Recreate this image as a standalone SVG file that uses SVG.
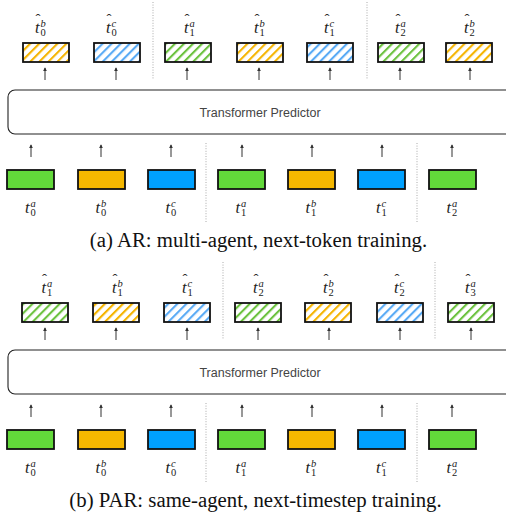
<svg xmlns="http://www.w3.org/2000/svg" width="506" height="519" viewBox="0 0 506 519">
  <style>
    .tok { stroke: #111; stroke-width: 1.8; }
    .g { fill: #62d93a; }
    .o { fill: #f6b800; }
    .b { fill: #00a1ff; }
    .hg { fill: url(#hatchG); }
    .ho { fill: url(#hatchO); }
    .hb { fill: url(#hatchB); }
    .arr { stroke: #333; stroke-width: 1; fill: none; marker-end: url(#head); }
    .sep { stroke: #aaa; stroke-width: 1; stroke-dasharray: 1 1.6; }
    .pred { fill: #fff; stroke: #222; stroke-width: 1.1; }
    .predtxt { font-family: "Liberation Sans", Arial, sans-serif; font-size: 12.5px; fill: #444; text-anchor: middle; }
    .lab { font-family: "Liberation Serif", "Times New Roman", serif; font-style: italic; font-size: 16.5px; fill: #222; }
    .hat { font-style: normal; font-size: 15px; }
    .sup { font-size: 10.5px; }
    .sub { font-style: normal; font-size: 10.5px; }
    .cap { font-family: "Liberation Serif", "Times New Roman", serif; font-size: 20.8px; fill: #111; text-anchor: middle; }
  </style>
  <defs>
    <marker id="head" markerUnits="userSpaceOnUse" markerWidth="4" markerHeight="4" refX="5" refY="3" orient="auto" viewBox="0 0 6 6">
      <path d="M0,0 L6,3 L0,6 z" fill="#333"/>
    </marker>
    <pattern id="hatchG" patternUnits="userSpaceOnUse" width="6.4" height="6.4" patternTransform="rotate(45)">
      <rect width="6.4" height="6.4" fill="#fff"/>
      <rect x="0" y="0" width="2.1" height="6.4" fill="#6cc23f"/>
    </pattern>
    <pattern id="hatchO" patternUnits="userSpaceOnUse" width="6.4" height="6.4" patternTransform="rotate(45)">
      <rect width="6.4" height="6.4" fill="#fff"/>
      <rect x="0" y="0" width="2.1" height="6.4" fill="#f5b400"/>
    </pattern>
    <pattern id="hatchB" patternUnits="userSpaceOnUse" width="6.4" height="6.4" patternTransform="rotate(45)">
      <rect width="6.4" height="6.4" fill="#fff"/>
      <rect x="0" y="0" width="2.1" height="6.4" fill="#58aaf5"/>
    </pattern>
  </defs>

  <!-- ===== Panel (a): AR ===== -->
  <g id="a-separators">
    <line class="sep" x1="153" y1="2" x2="153" y2="80"/>
    <line class="sep" x1="367" y1="2" x2="367" y2="80"/>
    <line class="sep" x1="206" y1="143" x2="206" y2="222"/>
    <line class="sep" x1="417" y1="143" x2="417" y2="222"/>
  </g>

  <!-- predicted tokens (a): each label is t, superscript, subscript, then the hat -->
  <g id="a-out-t0b"><rect class="tok ho" x="23" y="43" width="46" height="19"/>
    <text class="lab" x="35" y="33">t<tspan class="sup" x="40.5" dy="-6">b</tspan><tspan class="sub" x="40.5" dy="9">0</tspan><tspan class="hat" x="35.5" dy="-12">ˆ</tspan></text></g>
  <g id="a-out-t0c"><rect class="tok hb" x="94" y="43" width="46" height="19"/>
    <text class="lab" x="106" y="33">t<tspan class="sup" x="111.5" dy="-6">c</tspan><tspan class="sub" x="111.5" dy="9">0</tspan><tspan class="hat" x="106.5" dy="-12">ˆ</tspan></text></g>
  <g id="a-out-t1a"><rect class="tok hg" x="165" y="43" width="46" height="19"/>
    <text class="lab" x="184" y="33">t<tspan class="sup" x="189.5" dy="-6">a</tspan><tspan class="sub" x="189.5" dy="9">1</tspan><tspan class="hat" x="184.5" dy="-12">ˆ</tspan></text></g>
  <g id="a-out-t1b"><rect class="tok ho" x="237" y="43" width="46" height="19"/>
    <text class="lab" x="254" y="33">t<tspan class="sup" x="259.5" dy="-6">b</tspan><tspan class="sub" x="259.5" dy="9">1</tspan><tspan class="hat" x="254.5" dy="-12">ˆ</tspan></text></g>
  <g id="a-out-t1c"><rect class="tok hb" x="307" y="43" width="46" height="19"/>
    <text class="lab" x="324" y="33">t<tspan class="sup" x="329.5" dy="-6">c</tspan><tspan class="sub" x="329.5" dy="9">1</tspan><tspan class="hat" x="324.5" dy="-12">ˆ</tspan></text></g>
  <g id="a-out-t2a"><rect class="tok hg" x="378" y="43" width="46" height="19"/>
    <text class="lab" x="395" y="33">t<tspan class="sup" x="400.5" dy="-6">a</tspan><tspan class="sub" x="400.5" dy="9">2</tspan><tspan class="hat" x="395.5" dy="-12">ˆ</tspan></text></g>
  <g id="a-out-t2b"><rect class="tok ho" x="446" y="43" width="46" height="19"/>
    <text class="lab" x="464" y="33">t<tspan class="sup" x="469.5" dy="-6">b</tspan><tspan class="sub" x="469.5" dy="9">2</tspan><tspan class="hat" x="464.5" dy="-12">ˆ</tspan></text></g>

  <g id="a-predictor">
    <rect class="pred" x="8" y="90" width="506" height="44" rx="7"/>
    <text class="predtxt" x="260" y="117">Transformer Predictor</text>
  </g>

  <!-- input tokens (a) -->
  <g id="a-in-t0a"><rect class="tok g" x="7" y="170" width="47" height="19"/>
    <text class="lab" x="25" y="213">t<tspan class="sup" x="30.5" dy="-6">a</tspan><tspan class="sub" x="30.5" dy="9">0</tspan></text></g>
  <g id="a-in-t0b"><rect class="tok o" x="78" y="170" width="47" height="19"/>
    <text class="lab" x="95.5" y="213">t<tspan class="sup" x="101" dy="-6">b</tspan><tspan class="sub" x="101" dy="9">0</tspan></text></g>
  <g id="a-in-t0c"><rect class="tok b" x="148" y="170" width="47" height="19"/>
    <text class="lab" x="165.5" y="213">t<tspan class="sup" x="171" dy="-6">c</tspan><tspan class="sub" x="171" dy="9">0</tspan></text></g>
  <g id="a-in-t1a"><rect class="tok g" x="218" y="170" width="47" height="19"/>
    <text class="lab" x="235.5" y="213">t<tspan class="sup" x="241" dy="-6">a</tspan><tspan class="sub" x="241" dy="9">1</tspan></text></g>
  <g id="a-in-t1b"><rect class="tok o" x="288" y="170" width="47" height="19"/>
    <text class="lab" x="305.5" y="213">t<tspan class="sup" x="311" dy="-6">b</tspan><tspan class="sub" x="311" dy="9">1</tspan></text></g>
  <g id="a-in-t1c"><rect class="tok b" x="358" y="170" width="47" height="19"/>
    <text class="lab" x="376" y="213">t<tspan class="sup" x="381.5" dy="-6">c</tspan><tspan class="sub" x="381.5" dy="9">1</tspan></text></g>
  <g id="a-in-t2a"><rect class="tok g" x="429" y="170" width="47" height="19"/>
    <text class="lab" x="446.5" y="213">t<tspan class="sup" x="452" dy="-6">a</tspan><tspan class="sub" x="452" dy="9">2</tspan></text></g>

  <g id="a-connectors">
    <line class="arr" x1="45" y1="80" x2="45" y2="68"/>
    <line class="arr" x1="116" y1="80" x2="116" y2="68"/>
    <line class="arr" x1="187" y1="80" x2="187" y2="68"/>
    <line class="arr" x1="259" y1="80" x2="259" y2="68"/>
    <line class="arr" x1="330" y1="80" x2="330" y2="68"/>
    <line class="arr" x1="400" y1="80" x2="400" y2="68"/>
    <line class="arr" x1="470" y1="80" x2="470" y2="68"/>
    <line class="arr" x1="31" y1="157" x2="31" y2="145"/>
    <line class="arr" x1="101" y1="157" x2="101" y2="145"/>
    <line class="arr" x1="171" y1="157" x2="171" y2="145"/>
    <line class="arr" x1="242" y1="157" x2="242" y2="145"/>
    <line class="arr" x1="312" y1="157" x2="312" y2="145"/>
    <line class="arr" x1="382" y1="157" x2="382" y2="145"/>
    <line class="arr" x1="452" y1="157" x2="452" y2="145"/>
  </g>

  <text class="cap" x="258.5" y="247">(a) AR: multi-agent, next-token training.</text>

  <!-- ===== Panel (b): PAR ===== -->
  <g id="b-separators">
    <line class="sep" x1="223" y1="262" x2="223" y2="340"/>
    <line class="sep" x1="435" y1="262" x2="435" y2="340"/>
    <line class="sep" x1="206" y1="403" x2="206" y2="482"/>
    <line class="sep" x1="417" y1="403" x2="417" y2="482"/>
  </g>

  <!-- predicted tokens (b) -->
  <g id="b-out-t1a"><rect class="tok hg" x="22" y="303" width="46" height="19"/>
    <text class="lab" x="41.5" y="293">t<tspan class="sup" x="47" dy="-6">a</tspan><tspan class="sub" x="47" dy="9">1</tspan><tspan class="hat" x="42" dy="-12">ˆ</tspan></text></g>
  <g id="b-out-t1b"><rect class="tok ho" x="93" y="303" width="46" height="19"/>
    <text class="lab" x="112" y="293">t<tspan class="sup" x="117.5" dy="-6">b</tspan><tspan class="sub" x="117.5" dy="9">1</tspan><tspan class="hat" x="112.5" dy="-12">ˆ</tspan></text></g>
  <g id="b-out-t1c"><rect class="tok hb" x="164" y="303" width="46" height="19"/>
    <text class="lab" x="182" y="293">t<tspan class="sup" x="187.5" dy="-6">c</tspan><tspan class="sub" x="187.5" dy="9">1</tspan><tspan class="hat" x="182.5" dy="-12">ˆ</tspan></text></g>
  <g id="b-out-t2a"><rect class="tok hg" x="235" y="303" width="46" height="19"/>
    <text class="lab" x="253" y="293">t<tspan class="sup" x="258.5" dy="-6">a</tspan><tspan class="sub" x="258.5" dy="9">2</tspan><tspan class="hat" x="253.5" dy="-12">ˆ</tspan></text></g>
  <g id="b-out-t2b"><rect class="tok ho" x="305" y="303" width="46" height="19"/>
    <text class="lab" x="323" y="293">t<tspan class="sup" x="328.5" dy="-6">b</tspan><tspan class="sub" x="328.5" dy="9">2</tspan><tspan class="hat" x="323.5" dy="-12">ˆ</tspan></text></g>
  <g id="b-out-t2c"><rect class="tok hb" x="377" y="303" width="46" height="19"/>
    <text class="lab" x="394" y="293">t<tspan class="sup" x="399.5" dy="-6">c</tspan><tspan class="sub" x="399.5" dy="9">2</tspan><tspan class="hat" x="394.5" dy="-12">ˆ</tspan></text></g>
  <g id="b-out-t3a"><rect class="tok hg" x="448" y="303" width="46" height="19"/>
    <text class="lab" x="465" y="293">t<tspan class="sup" x="470.5" dy="-6">a</tspan><tspan class="sub" x="470.5" dy="9">3</tspan><tspan class="hat" x="465.5" dy="-12">ˆ</tspan></text></g>

  <g id="b-predictor">
    <rect class="pred" x="8" y="350" width="506" height="44" rx="7"/>
    <text class="predtxt" x="260" y="377">Transformer Predictor</text>
  </g>

  <!-- input tokens (b) -->
  <g id="b-in-t0a"><rect class="tok g" x="7" y="430" width="47" height="19"/>
    <text class="lab" x="25" y="473">t<tspan class="sup" x="30.5" dy="-6">a</tspan><tspan class="sub" x="30.5" dy="9">0</tspan></text></g>
  <g id="b-in-t0b"><rect class="tok o" x="78" y="430" width="47" height="19"/>
    <text class="lab" x="95.5" y="473">t<tspan class="sup" x="101" dy="-6">b</tspan><tspan class="sub" x="101" dy="9">0</tspan></text></g>
  <g id="b-in-t0c"><rect class="tok b" x="148" y="430" width="47" height="19"/>
    <text class="lab" x="165.5" y="473">t<tspan class="sup" x="171" dy="-6">c</tspan><tspan class="sub" x="171" dy="9">0</tspan></text></g>
  <g id="b-in-t1a"><rect class="tok g" x="218" y="430" width="47" height="19"/>
    <text class="lab" x="235.5" y="473">t<tspan class="sup" x="241" dy="-6">a</tspan><tspan class="sub" x="241" dy="9">1</tspan></text></g>
  <g id="b-in-t1b"><rect class="tok o" x="288" y="430" width="47" height="19"/>
    <text class="lab" x="305.5" y="473">t<tspan class="sup" x="311" dy="-6">b</tspan><tspan class="sub" x="311" dy="9">1</tspan></text></g>
  <g id="b-in-t1c"><rect class="tok b" x="358" y="430" width="47" height="19"/>
    <text class="lab" x="376" y="473">t<tspan class="sup" x="381.5" dy="-6">c</tspan><tspan class="sub" x="381.5" dy="9">1</tspan></text></g>
  <g id="b-in-t2a"><rect class="tok g" x="429" y="430" width="47" height="19"/>
    <text class="lab" x="446.5" y="473">t<tspan class="sup" x="452" dy="-6">a</tspan><tspan class="sub" x="452" dy="9">2</tspan></text></g>

  <g id="b-connectors">
    <line class="arr" x1="45" y1="340" x2="45" y2="328"/>
    <line class="arr" x1="116" y1="340" x2="116" y2="328"/>
    <line class="arr" x1="187" y1="340" x2="187" y2="328"/>
    <line class="arr" x1="258" y1="340" x2="258" y2="328"/>
    <line class="arr" x1="329" y1="340" x2="329" y2="328"/>
    <line class="arr" x1="400" y1="340" x2="400" y2="328"/>
    <line class="arr" x1="471" y1="340" x2="471" y2="328"/>
    <line class="arr" x1="31" y1="417" x2="31" y2="405"/>
    <line class="arr" x1="101" y1="417" x2="101" y2="405"/>
    <line class="arr" x1="171" y1="417" x2="171" y2="405"/>
    <line class="arr" x1="242" y1="417" x2="242" y2="405"/>
    <line class="arr" x1="312" y1="417" x2="312" y2="405"/>
    <line class="arr" x1="382" y1="417" x2="382" y2="405"/>
    <line class="arr" x1="452" y1="417" x2="452" y2="405"/>
  </g>

  <text class="cap" x="255.5" y="507">(b) PAR: same-agent, next-timestep training.</text>
</svg>
